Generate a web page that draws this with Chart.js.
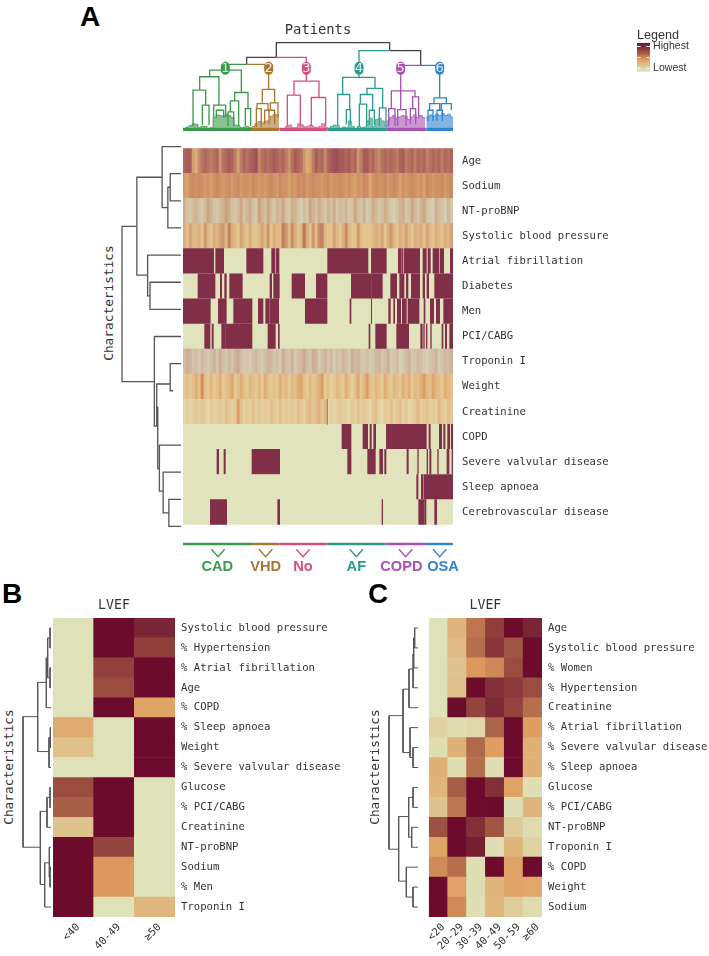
<!DOCTYPE html>
<html>
<head>
<meta charset="utf-8">
<style>
  body { margin: 0; background: #fff; }
  #page { position: relative; width: 709px; height: 956px; overflow: hidden; }
  #page canvas { position: absolute; }
  .txt { position: absolute; white-space: nowrap; color: #333; line-height: 1; }
  .letter { font: bold 28px "Liberation Sans", sans-serif; color: #000; }
  .rot { font: 12.8px "DejaVu Sans Mono", monospace; transform: translate(-50%, -50%) rotate(-90deg); }
</style>
<script src="https://cdn.jsdelivr.net/npm/chart.js@4"></script>
</head>
<body>
<div id="page"></div>
<script>
// ---- Panel A: rows of the patient heatmap
const rowsA = ['Age', 'Sodium', 'NT-proBNP', 'Systolic blood pressure', 'Atrial fibrillation', 'Diabetes', 'Men', 'PCI/CABG', 'Troponin I', 'Weight', 'Creatinine', 'COPD', 'Severe valvular disease', 'Sleep apnoea', 'Cerebrovascular disease']

// continuous rows, 0-9 level per block of patients
const ageLevels = [7,8,8,2,1,4,6,7,6,5,6,7,3,6,7,8,7,5,2,5,7,6,7,8,9,4,6,7,6,7,8,7,6,7,5,3,6,8,7,6,3,1,2,5,8,6,7,4,7,8,9,9,8,8,7,8,6,7,3,5,8,8,6,7,5,4,6,7,6,7,6,5,7,8,5,6,7,5,7,6,7,5,6,7,6,7,5,7,6,7]
const sodiumLevels = [4,3,5,6,5,6,5,4,5,3,5,6,5,4,5,6,4,5,6,4,5,5,4,6,5,4,5,4,5,6,5,4,6,5,5,3,5,4,6,5,6,4,5,6,5,5,4,5,6,4,5,5,6,5,4,5,4,3,5,4,6,5,2,5,6,5,5,6,4,5,6,5,3,5,4,5,6,5,4,5,3,6,5,4,5,5,6,4,5,6]
const bnpLevels = [5,2,1,3,4,2,1,3,6,4,2,1,3,4,7,5,2,1,3,6,2,4,5,2,1,7,4,2,6,3,1,4,3,6,2,1,5,4,2,0,3,1,6,4,2,5,3,1,4,2,5,1,3,2,4,1,2,6,3,1,4,0,2,5,3,1,2,5,3,1,0,2,4,5,1,2,6,3,1,4,6,2,1,0,5,3,2,0,4,1]
const sbpLevels = [3,1,4,2,2,3,1,5,2,1,3,2,4,5,2,7,3,2,1,4,2,1,3,1,1,2,4,2,5,1,3,2,2,7,5,2,6,3,1,2,8,3,1,5,2,6,7,2,1,1,4,2,1,3,6,2,1,1,5,2,1,1,1,2,3,2,4,1,3,5,2,1,3,2,4,2,1,3,2,3,1,4,2,1,3,2,1,3,2,4]
const troponinLevels = [3,6,5,2,3,1,4,2,1,3,5,2,6,3,1,4,2,5,7,3,1,2,1,3,4,2,1,3,5,4,2,3,1,6,3,2,5,1,3,4,7,3,2,6,5,1,3,5,2,4,1,3,2,5,3,1,6,4,5,2,1,3,1,2,4,5,2,3,6,1,2,4,0,1,3,5,1,2,4,3,1,0,2,3,5,1,2,4,3,5]
const weightLevels = [2,3,2,3,5,3,9,3,2,4,2,3,5,2,3,4,6,2,3,5,3,2,4,3,2,4,2,5,3,2,3,2,5,3,4,2,4,3,5,6,3,2,4,2,3,5,7,2,3,1,2,4,3,2,5,3,1,3,6,2,4,7,3,2,4,3,2,5,3,2,4,3,2,5,3,5,2,4,3,5,7,4,3,6,4,3,2,5,4,3]
const creatinineLevels = [1,2,1,2,3,2,3,2,1,3,2,2,3,2,4,3,2,3,8,4,2,3,2,4,2,3,2,3,2,4,3,2,4,2,3,2,3,2,4,3,2,4,5,3,4,6,3,5,1,2,1,2,3,2,2,1,3,2,4,2,3,2,1,3,4,2,1,3,2,4,2,3,4,2,3,1,2,3,5,2,3,4,2,3,2,5,3,2,4,3]

// yes/no rows, runs of patients [from, to] that have the condition
const afRuns = [[0,92],[98,101],[103,122],[191,240],[266,276],[280,288],[434,555],[565,610],[646,653],[656,659],[663,710],[720,730],[735,742],[750,768],[772,782],[802,810]]
const diabetesRuns = [[45,96],[112,116],[125,130],[140,178],[261,266],[272,289],[327,365],[400,432],[505,565],[566,598],[623,641],[650,663],[670,675],[685,710],[720,725],[732,737],[755,810]]
const menRuns = [[0,82],[106,130],[152,207],[226,240],[248,258],[260,287],[367,432],[501,504],[565,566],[617,622],[632,635],[643,653],[658,670],[675,708],[723,726],[742,752],[760,770],[782,810]]
const pciRuns = [[65,81],[87,91],[116,127],[128,207],[255,277],[286,289],[558,561],[578,610],[641,677],[713,718],[722,724],[730,732],[743,745],[777,780],[787,791],[800,810]]
const copdRuns = [[477,504],[540,554],[561,565],[572,578],[610,730],[738,742],[769,776],[782,786],[794,800],[805,810]]
const valveRuns = [[102,107],[123,127],[207,290],[494,504],[554,577],[590,599],[605,609],[672,676],[704,706],[732,734],[740,744],[764,766],[792,798],[807,810]]
const apnoeaRuns = [[701,705],[715,720],[723,810]]
const strokeRuns = [[82,131],[284,290],[597,599],[707,723],[725,729],[755,761]]

// cluster limits along the patient axis
const clusterEdges = [0,207,290,433,610,730,810]
const clusterNames = ['CAD', 'VHD', 'No', 'AF', 'COPD', 'OSA']
const clusterMarks = [105,248,360,520,668,770]
const clusterLabelAt = [103,248,360,520,655,780]
const clusterBadges = ['1', '2', '3', '4', '5', '6']
const badgeAt = [127,257,370,528,653,770]

// dendrogram merges: [height, a, heightA, b, heightB]
const patientRootMerges = [[264,280,220,620,240],[220,191,199,280,220],[240,620,240,713,196]]
const cadMerges = [[199,127,182,191,199],[182,80,162,175,115],[162,50,122,108,77],[122,30,15,68,77],[77,58,18,78,18],[77,92,40,128,40],[62,100,40,122,40],[115,155,90,195,67],[90,142,57,167,15],[57,135,15,152,15],[67,187,15,203,15]]
const vhdMerges = [[199,191,199,257,124],[124,238,82,275,84],[82,222,67,255,62],[67,220,12,235,12],[62,245,20,258,20],[84,262,62,285,40],[62,258,20,275,20]]
const noMerges = [[220,280,220,370,149],[149,333,107,408,100],[107,313,15,352,15],[100,385,15,428,15]]
const afMerges = [[240,528,160,620,240],[160,479,109,576,127],[109,464,17,500,64],[64,490,20,502,20],[127,552,109,599,69],[109,532,80,569,62],[80,529,15,551,15],[62,559,18,574,18],[69,589,15,609,15]]
const copdMerges = [[196,653,120,713,196],[120,625,67,696,102],[67,617,15,636,15],[120,653,64,653,120],[64,644,15,669,15],[102,689,67,707,40],[67,682,20,698,20]]
const osaMerges = [[196,713,196,770,99],[99,753,82,790,82],[82,740,62,770,62],[82,775,62,805,62],[62,735,30,750,30],[62,762,30,778,30]]

// bushy leaf heights along the bottom of each cluster
const cadLeaves = [8,12,16,22,20,10,14,14,8,10,40,48,46,44,50,46,40,18,16,10,12,14,10]
const vhdLeaves = [14,22,28,24,30,30,44,50,48]
const noLeaves = [6,8,14,18,10,10,22,18,12,14,18,12,10,14,22,12]
const afLeaves = [8,14,18,16,8,12,10,30,14,8,14,10,12,30,38,14,34,38,30,16]
const copdLeaves = [30,40,46,38,42,46,44,34,42,48,40,46,40]
const osaLeaves = [42,48,44,50,46,52,46,50,42]

const rowMergesA = [[32,1,0,2,0],[39,1.5,32,3,0],[56,0,0,2.25,39],[131,1.13,56,4.74,99],[92,5,0,6,0],[99,4,0,5.5,92],[175,2.94,131,8.66,79],[79,7,0,10.3,72],[32,8,0,9,24],[72,8.75,32,10.3,69],[69,9.6,72,11.87,64],[64,11,0,12.7,53],[53,12,0,13.5,36],[36,13,0,14,0]]

// ---- Panel B
const colsB = ['<40', '40-49', '≥50']
const rowsB = ['Systolic blood pressure', '% Hypertension', '% Atrial fibrillation', 'Age', '% COPD', '% Sleep apnoea', 'Weight', '% Severe valvular disease', 'Glucose', '% PCI/CABG', 'Creatinine', 'NT-proBNP', 'Sodium', '% Men', 'Troponin I']
const valuesB = [[0,1,.9],[0,1,.78],[0,.77,1],[0,.72,1],[0,1,.37],[.33,0,1],[.22,0,1],[0,0,1],[.72,1,0],[.65,1,0],[.2,1,0],[1,.75,0],[1,.42,0],[1,.42,0],[1,0,.27]]
const rowMergesB = [[3,0,0,1,0],[3,2,0,3,0],[10,.5,3,2.5,3],[14,1.5,10,4,0],[40,2.73,14,6.2,6],[2,5,0,6,0],[6,5.5,2,7,0],[84,4.45,40,11,32],[3,8,0,9,0],[12,8.5,3,10,0],[32,9.2,12,12.87,19],[3,12,0,13,0],[5,11,0,12.5,3],[19,11.78,5,14,0]]

// ---- Panel C
const colsC = ['<20', '20-29', '30-39', '40-49', '50-59', '≥60']
const rowsC = ['Age', 'Systolic blood pressure', '% Women', '% Hypertension', 'Creatinine', '% Atrial fibrillation', '% Severe valvular disease', '% Sleep apnoea', 'Glucose', '% PCI/CABG', 'NT-proBNP', 'Troponin I', '% COPD', 'Weight', 'Sodium']
const valuesC = [[0,.28,.55,.78,1,.9],[0,.25,.58,.82,.68,1],[0,.2,.42,.48,.72,1],[0,.22,1,.85,.8,.72],[0,1,.75,.88,.75,.58],[.1,.03,.07,.62,1,.4],[.03,.3,.6,.4,1,.3],[.3,.03,.58,.03,1,.3],[.28,.65,1,.85,.38,.02],[.2,.55,1,1,.02,.28],[.7,1,.85,.68,.15,.04],[.38,1,.93,.02,.28,.1],[.47,.58,.02,1,.38,1],[1,.38,.02,.28,.37,.35],[1,.47,.02,.27,.14,.04]]
const rowMergesC = [[10,0,0,1,0],[13,.5,10,2,0],[15,1.3,13,3,0],[27,2.06,15,4,0],[45,3.07,27,6.25,24],[15,6,0,7,0],[24,5,0,6.5,15],[87,4.4,45,11.1,58],[58,9.46,28,12.7,35],[15,8,0,9,0],[19,10,0,11,0],[28,8.5,15,10.5,19],[15,13,0,14,0],[35,12,0,13.5,15]]

// ---- Legend
const legendLevels = [1,.95,.9,.85,.8,.75,.7,.65,.6,.55,.5,.45,.4,.35,.3,.25,.2,.15,.1,.05,0]
const legendTicks = ['','','Highest','','','','','','','','','','','','','','','','Lowest','','']
const legendMarks = [2,10,18]

// ---- styles
const monoFont = '"DejaVu Sans Mono", monospace'
const sansFont = '"Liberation Sans", Arial, sans-serif'
const textColor = '#333'
const treeColor = '#555'
const clusterColors = ['#3a9a4a', '#a9762e', '#d4507a', '#2b9c8b', '#a751b3', '#2e84cf']
const yesColor = '#812f48'
const noColor = '#e0e3bb'
const heatStops = [[0,[223,225,184]],[.22,[223,192,138]],[.4,[224,158,96]],[.6,[176,106,74]],[.75,[148,68,62]],[.9,[122,37,53]],[1,[108,11,43]]]
const rowRamps = {
  'Age': [[226,184,119],[160,80,86]],
  'Sodium': [[228,182,122],[190,118,86]],
  'NT-proBNP': [[214,206,178],[201,146,110]],
  'Systolic blood pressure': [[233,207,149],[185,106,79]],
  'Troponin I': [[214,208,180],[200,155,140]],
  'Weight': [[232,218,166],[218,140,84]],
  'Creatinine': [[229,224,176],[224,150,100]]
}

function mix(a, b, t) {
  return 'rgb(' + a.map((c, i) => Math.round(c + (b[i] - c) * t)).join(',') + ')'
}

function heatColor(v) {
  for (let i = 1; i < heatStops.length; i++) {
    if (v <= heatStops[i][0]) {
      const [a, ca] = heatStops[i - 1]
      const [b, cb] = heatStops[i]
      return mix(ca, cb, (v - a) / (b - a))
    }
  }
  return mix(heatStops[0][1], heatStops[heatStops.length - 1][1], 1)
}

const page = document.getElementById('page')

function addCanvas(left, top, width, height) {
  const c = document.createElement('canvas')
  c.width = width
  c.height = height
  c.style.left = left + 'px'
  c.style.top = top + 'px'
  page.appendChild(c)
  return c
}

function addText(text, cls, left, top) {
  const d = document.createElement('div')
  d.className = 'txt ' + cls
  d.textContent = text
  d.style.left = left + 'px'
  d.style.top = top + 'px'
  page.appendChild(d)
}

const baseOptions = {
  responsive: false,
  animation: false,
  plugins: { legend: { display: false }, tooltip: { enabled: false } }
}

// turns merges into one broken line; side trees swap the axes
function treePath(merges, sideways) {
  const pts = []
  const add = (pos, h) => pts.push(sideways ? { x: h, y: pos } : { x: pos, y: h })
  merges.forEach(([h, a, ha, b, hb]) => {
    add(a, ha)
    add(a, h)
    add(b, h)
    add(b, hb)
    pts.push({ x: null, y: null })
  })
  return pts
}

function treeLine(merges, color, width, sideways) {
  return {
    data: treePath(merges, sideways),
    showLine: true,
    borderColor: color,
    borderWidth: width,
    pointRadius: 0,
    clip: false
  }
}

// ---- Panel A heatmap
const stripeRows = { 'Age': ageLevels, 'Sodium': sodiumLevels, 'NT-proBNP': bnpLevels, 'Systolic blood pressure': sbpLevels, 'Troponin I': troponinLevels, 'Weight': weightLevels, 'Creatinine': creatinineLevels }
const runRows = { 'Atrial fibrillation': afRuns, 'Diabetes': diabetesRuns, 'Men': menRuns, 'PCI/CABG': pciRuns, 'COPD': copdRuns, 'Severe valvular disease': valveRuns, 'Sleep apnoea': apnoeaRuns, 'Cerebrovascular disease': strokeRuns }

const cellsA = []
const colorsA = []
rowsA.forEach(row => {
  if (stripeRows[row]) {
    stripeRows[row].forEach((lv, i) => {
      cellsA.push({ x: [i * 9, (i + 1) * 9], y: row })
      colorsA.push(mix(rowRamps[row][0], rowRamps[row][1], lv / 9))
    })
  } else {
    cellsA.push({ x: [0, 810], y: row })
    colorsA.push(noColor)
    runRows[row].forEach(run => {
      cellsA.push({ x: run, y: row })
      colorsA.push(yesColor)
    })
  }
})
// thin dark line through Creatinine
cellsA.push({ x: [432, 434], y: 'Creatinine' })
colorsA.push('#b5835f')

new Chart(addCanvas(183, 133, 430, 407), {
  type: 'bar',
  data: { datasets: [{ data: cellsA, backgroundColor: colorsA, barPercentage: 1, categoryPercentage: 1 }] },
  options: {
    ...baseOptions,
    indexAxis: 'y',
    scales: {
      x: { type: 'linear', min: 0, max: 810, display: false },
      y: {
        type: 'category',
        labels: rowsA,
        position: 'right',
        afterFit: s => { s.width = 160 },
        grid: { display: false, drawTicks: false },
        border: { display: false },
        ticks: { autoSkip: false, padding: 9, color: textColor, font: { family: monoFont, size: 10.6 } }
      }
    }
  }
})

// ---- Panel A top tree
function leafLine(leaves, from, color) {
  const pts = leaves.map((h, i) => ({ x: from + i * 9, y: h }))
  pts.push({ x: from + leaves.length * 9, y: leaves[leaves.length - 1] })
  return {
    data: pts,
    showLine: true,
    stepped: true,
    fill: 'origin',
    borderColor: color + 'bb',
    backgroundColor: color + '99',
    borderWidth: 1,
    pointRadius: 0
  }
}

function leafBand(i) {
  return {
    data: [{ x: clusterEdges[i], y: 8 }, { x: clusterEdges[i + 1], y: 8 }],
    showLine: true,
    fill: 'origin',
    borderColor: clusterColors[i],
    backgroundColor: clusterColors[i],
    borderWidth: 1,
    pointRadius: 0
  }
}

const badgeDigits = {
  id: 'badgeDigits',
  afterDatasetsDraw(chart) {
    const { ctx, scales } = chart
    ctx.save()
    ctx.font = '13px "DejaVu Sans", sans-serif'
    ctx.fillStyle = 'rgba(255,255,255,0.85)'
    ctx.textAlign = 'center'
    ctx.textBaseline = 'middle'
    clusterBadges.forEach((b, i) => {
      ctx.fillText(b, scales.x.getPixelForValue(badgeAt[i]), scales.y.getPixelForValue(187))
    })
    ctx.restore()
  }
}

const merges = [cadMerges, vhdMerges, noMerges, afMerges, copdMerges, osaMerges]
const leaves = [cadLeaves, vhdLeaves, noLeaves, afLeaves, copdLeaves, osaLeaves]
const topSets = []
leaves.forEach((lv, i) => {
  topSets.push(leafLine(lv, clusterEdges[i], clusterColors[i]))
  topSets.push(leafBand(i))
})
merges.forEach((m, i) => topSets.push(treeLine(m, clusterColors[i], 1.3, false)))
topSets.push(treeLine(patientRootMerges, '#444', 1.3, false))
badgeAt.forEach((x, i) => {
  topSets.push({
    data: [{ x: x, y: 193 }, { x: x, y: 181 }],
    showLine: true,
    borderColor: clusterColors[i],
    borderWidth: 9,
    borderCapStyle: 'round',
    pointRadius: 0
  })
})

new Chart(addCanvas(183, 22, 300, 109), {
  type: 'scatter',
  data: { datasets: topSets },
  plugins: [badgeDigits],
  options: {
    ...baseOptions,
    layout: { padding: { right: 30 } },
    plugins: {
      ...baseOptions.plugins,
      title: { display: true, text: 'Patients', color: textColor, padding: { top: 0, bottom: 4 }, font: { family: monoFont, size: 13.8, weight: 'normal' } }
    },
    scales: {
      x: { type: 'linear', min: 0, max: 810, display: false },
      y: { type: 'linear', min: 0, max: 264, display: false }
    }
  }
})

// ---- side trees
function sideTree(left, top, width, height, rowMerges, maxH, lineW) {
  new Chart(addCanvas(left, top, width, height), {
    type: 'scatter',
    data: { datasets: [treeLine(rowMerges, treeColor, lineW, true)] },
    options: {
      ...baseOptions,
      layout: { padding: { left: 3 } },
      scales: {
        x: { type: 'linear', min: 0, max: maxH, reverse: true, display: false },
        y: { type: 'linear', min: -0.5, max: 14.5, reverse: true, display: false }
      }
    }
  })
}

sideTree(119, 133, 62, 407, rowMergesA, 175, 1.3)
sideTree(20, 618, 31, 299, rowMergesB, 84, 1)
sideTree(386, 618, 32, 299, rowMergesC, 87, 1)

// ---- cluster strip under panel A
const clusterText = {
  id: 'clusterText',
  afterDatasetsDraw(chart) {
    const { ctx, scales } = chart
    ctx.save()
    ctx.font = 'bold 14.6px ' + sansFont
    ctx.textAlign = 'center'
    ctx.textBaseline = 'middle'
    clusterNames.forEach((n, i) => {
      ctx.fillStyle = clusterColors[i]
      ctx.fillText(n, scales.x.getPixelForValue(clusterLabelAt[i]), scales.y.getPixelForValue(27))
    })
    ctx.restore()
  }
}

const stripSets = []
clusterNames.forEach((n, i) => {
  stripSets.push({
    data: [{ x: clusterEdges[i], y: 4 }, { x: clusterEdges[i + 1], y: 4 }],
    showLine: true, borderColor: clusterColors[i], borderWidth: 2.4, pointRadius: 0
  })
  stripSets.push({
    data: [{ x: clusterMarks[i] - 20, y: 9.3 }, { x: clusterMarks[i], y: 16.7 }, { x: clusterMarks[i] + 20, y: 9.3 }],
    showLine: true, borderColor: clusterColors[i], borderWidth: 1.4, pointRadius: 0
  })
})

new Chart(addCanvas(183, 540, 320, 40), {
  type: 'scatter',
  data: { datasets: stripSets },
  plugins: [clusterText],
  options: {
    ...baseOptions,
    layout: { padding: { right: 50 } },
    scales: {
      x: { type: 'linear', min: 0, max: 810, display: false },
      y: { type: 'linear', min: 0, max: 40, reverse: true, display: false }
    }
  }
})

// ---- Panels B and C
function lvefHeatmap(left, width, labelWidth, cols, rows, values) {
  const cells = []
  const colors = []
  rows.forEach((row, r) => {
    values[r].forEach((v, c) => {
      cells.push({ x: [c, c + 1], y: row })
      colors.push(heatColor(v))
    })
  })
  new Chart(addCanvas(left, 598, width, 358), {
    type: 'bar',
    data: { datasets: [{ data: cells, backgroundColor: colors, barPercentage: 1, categoryPercentage: 1 }] },
    options: {
      ...baseOptions,
      indexAxis: 'y',
      scales: {
        x: {
          type: 'linear',
          min: 0,
          max: cols.length,
          afterFit: s => { s.height = 39 },
          afterBuildTicks: s => { s.ticks = cols.map((c, i) => ({ value: i + 0.5 })) },
          grid: { display: false, drawTicks: false },
          border: { display: false },
          ticks: {
            autoSkip: false,
            minRotation: 45,
            maxRotation: 45,
            padding: 4,
            labelOffset: 5,
            color: textColor,
            font: { family: monoFont, size: 10.6 },
            callback: v => cols[v - 0.5]
          }
        },
        top: {
          type: 'linear',
          axis: 'x',
          position: 'top',
          afterFit: s => { s.height = 20 },
          grid: { display: false, drawTicks: false },
          border: { display: false },
          ticks: { display: false },
          title: { display: true, text: 'LVEF', color: textColor, padding: 0, font: { family: monoFont, size: 13.2 } }
        },
        y: {
          type: 'category',
          labels: rows,
          position: 'right',
          afterFit: s => { s.width = labelWidth },
          grid: { display: false, drawTicks: false },
          border: { display: false },
          ticks: { autoSkip: false, padding: 6, color: textColor, font: { family: monoFont, size: 10.6 } }
        }
      }
    }
  })
}

lvefHeatmap(53, 296, 174, colsB, rowsB, valuesB)
lvefHeatmap(420, 289, 167, colsC, rowsC, valuesC)

// ---- Legend
new Chart(addCanvas(637, 28, 60, 53), {
  type: 'bar',
  data: {
    labels: legendTicks,
    datasets: [
      { data: legendMarks.length ? legendLevels.map((v, i) => legendMarks.includes(i) ? [0, 0.28] : null) : [], backgroundColor: '#fff', grouped: false, order: 0, barPercentage: 0.6, categoryPercentage: 1 },
      { data: legendLevels.map((v, i) => legendMarks.includes(i) ? [0.72, 1] : null), backgroundColor: '#fff', grouped: false, order: 0, barPercentage: 0.6, categoryPercentage: 1 },
      { data: legendLevels.map(() => [0, 1]), backgroundColor: legendLevels.map(heatColor), grouped: false, order: 1, barPercentage: 1, categoryPercentage: 1 }
    ]
  },
  options: {
    ...baseOptions,
    indexAxis: 'y',
    plugins: {
      ...baseOptions.plugins,
      title: { display: true, text: 'Legend', align: 'start', color: textColor, padding: 0, font: { family: sansFont, size: 12.6, weight: 'normal' } }
    },
    scales: {
      x: { type: 'linear', min: 0, max: 1, display: false },
      y: {
        type: 'category',
        position: 'right',
        afterFit: s => { s.width = 47 },
        grid: { display: false, drawTicks: false },
        border: { display: false },
        ticks: { autoSkip: false, padding: 3, color: textColor, font: { family: sansFont, size: 10.6 } }
      }
    }
  }
})

// ---- page text
addText('A', 'letter', 80, 1)
addText('B', 'letter', 2, 578)
addText('C', 'letter', 368, 578)
addText('Characteristics', 'rot', 108, 303)
addText('Characteristics', 'rot', 8, 767)
addText('Characteristics', 'rot', 374, 767)
</script>
</body>
</html>
